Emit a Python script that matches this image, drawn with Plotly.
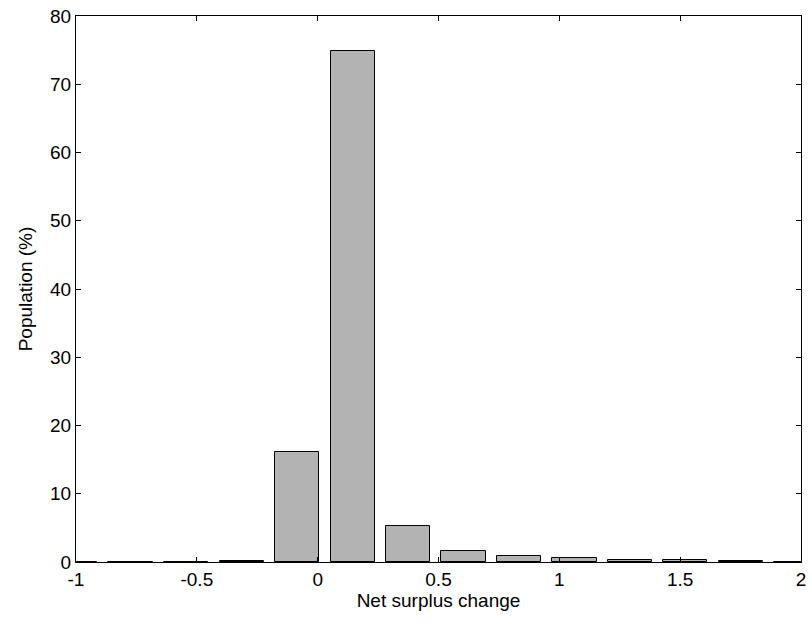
import plotly.graph_objects as go

bin_centers = [-1.003, -0.774, -0.544, -0.314, -0.085, 0.145, 0.374, 0.603,
               0.833, 1.063, 1.292, 1.521, 1.751, 1.981]
population = [0.02, 0.03, 0.03, 0.12, 16.05, 74.8, 5.3, 1.63,
              0.91, 0.53, 0.29, 0.33, 0.14, 0.05]
x_ticks = [-1, -0.5, 0, 0.5, 1, 1.5, 2]
x_tick_labels = ["-1", "-0.5", "0", "0.5", "1", "1.5", "2"]
y_ticks = [0, 10, 20, 30, 40, 50, 60, 70, 80]
y_tick_labels = ["0", "10", "20", "30", "40", "50", "60", "70", "80"]

bar_width = 0.1836

fig = go.Figure(go.Bar(
    x=bin_centers, y=population,
    width=[bar_width] * len(bin_centers),
    marker=dict(color="#b3b3b3", line=dict(color="#000000", width=1)),
))

font = dict(family="Liberation Sans, Arial, sans-serif", size=19, color="#000000")
fig.update_layout(
    width=812, height=624,
    margin=dict(l=76, r=6, t=9, b=62),
    paper_bgcolor="white", plot_bgcolor="white",
    showlegend=False, font=font, bargap=0,
    xaxis=dict(range=[-1, 2], tickvals=x_ticks, ticktext=x_tick_labels,
               ticks="inside", ticklen=5, tickcolor="#000000", tickwidth=1,
               showline=True, linecolor="#000000", linewidth=1, mirror="ticks",
               showgrid=False, zeroline=False, ticklabeloverflow="allow",
               title=dict(text="Net surplus change", font=dict(size=19), standoff=4)),
    yaxis=dict(range=[0, 80], tickvals=y_ticks, ticktext=y_tick_labels,
               ticks="inside", ticklen=5, tickcolor="#000000", tickwidth=1,
               showline=True, linecolor="#000000", linewidth=1, mirror="ticks",
               showgrid=False, zeroline=False, ticklabeloverflow="allow",
               title=dict(text="Population (%)", font=dict(size=19), standoff=12)),
)

fig.write_html("out.html")
